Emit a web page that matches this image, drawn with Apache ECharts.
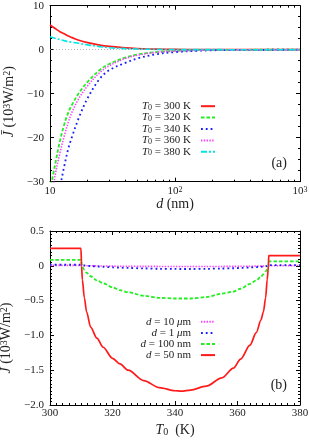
<!DOCTYPE html>
<html><head><meta charset="utf-8">
<script src="https://cdn.jsdelivr.net/npm/echarts@6/dist/echarts.min.js"></script>
<style>html,body{margin:0;padding:0;background:#fff}#c{width:309px;height:441px}</style>
</head><body><div id="c"></div>
<script>
// ---------- panel (a) data ----------
const dNm = [10,11,12,13,14,15,17,20,25,30,40,50,70,100,150,200,300,500,1000];
const J_T300 = [5.6,4.8,4.1,3.6,3.1,2.75,2.15,1.6,1.05,0.75,0.42,0.27,0.12,0.06,0.02,0.01,0.005,0.002,0];
const J_T320 = [-32,-26,-20.8,-17,-14.3,-12.5,-9.9,-7.3,-4.6,-3.2,-1.8,-1.1,-0.55,-0.28,-0.12,-0.07,-0.03,-0.01,0];
const J_T340 = [-48,-39,-31.5,-26.5,-22.5,-19.8,-15.5,-11,-6.6,-4.6,-3.0,-2.0,-1.05,-0.55,-0.25,-0.13,-0.06,-0.02,0];
const J_T360 = [-36,-28.5,-23.5,-19.6,-16.5,-14.2,-11.1,-8.2,-5.2,-3.6,-2.0,-1.25,-0.62,-0.32,-0.13,-0.07,-0.03,-0.01,0];
const J_T380 = [2.95,2.6,2.3,2.05,1.85,1.7,1.45,1.1,0.7,0.45,0.25,0.15,0.07,0.03,0.015,0.008,0.004,0.001,0];
const dMinorTicks = [20,30,40,50,60,70,80,90,200,300,400,500,600,700,800,900];
const topLegend = ['300','320','340','360','380'];

// ---------- panel (b) data ----------
const T0 = [300,309.9,310.1,310.35,311,311.7,313,315,317,320,322.4,325,330,335,340,342,345,350,355,358.7,361,364,366,367.5,368.3,369,369.5,369.9,370,380];
const J_d50nm = [0.25,0.25,0,-0.2,-0.46,-0.66,-0.88,-1.04,-1.17,-1.33,-1.41,-1.5,-1.65,-1.75,-1.795,-1.8,-1.785,-1.73,-1.61,-1.47,-1.34,-1.14,-0.96,-0.78,-0.66,-0.46,-0.2,0,0.145,0.145];
const J_d100nm = [0.085,0.085,0.02,-0.01,-0.06,-0.1,-0.15,-0.21,-0.25,-0.31,-0.35,-0.38,-0.43,-0.46,-0.47,-0.47,-0.47,-0.45,-0.4,-0.37,-0.33,-0.26,-0.21,-0.16,-0.12,-0.08,-0.05,-0.01,0.065,0.065];
const J_d1um = [0.015,0.015,0.01,0.008,0.005,0.002,-0.003,-0.01,-0.015,-0.022,-0.027,-0.031,-0.038,-0.043,-0.045,-0.046,-0.046,-0.044,-0.039,-0.035,-0.031,-0.024,-0.019,-0.014,-0.011,-0.007,-0.004,0,0.01,0.01];
const J_d10um = [0.006,0.006,0.004,0.003,0.002,0.001,0,-0.002,-0.003,-0.005,-0.006,-0.007,-0.008,-0.009,-0.01,-0.01,-0.01,-0.01,-0.009,-0.008,-0.007,-0.006,-0.005,-0.004,-0.003,-0.002,-0.001,0,0.004,0.004];
const bottomLegend = ['10 μm','1 μm','100 nm','50 nm'];

const FONT = 'Liberation Serif';
const TXT = '#222';
const pairs = (xs, ys) => xs.map((x, i) => [x, ys[i]]);

function richSet(fs) {
  return {
    i: {fontFamily: FONT, fontStyle: 'italic', fontSize: fs, color: TXT},
    n: {fontFamily: FONT, fontSize: fs, color: TXT},
    sub: {fontFamily: FONT, fontSize: Math.round(fs*0.72), color: TXT, verticalAlign: 'bottom', lineHeight: 6},
    sup: {fontFamily: FONT, fontSize: Math.round(fs*0.72), color: TXT, verticalAlign: 'top', lineHeight: 4}
  };
}

const tickCommon = {show: true, inside: true, length: 4, lineStyle: {color: '#000', width: 1}};
const minorCommon = {show: true, length: 2, lineStyle: {color: '#000', width: 1}};
const lineCommon = {show: true, onZero: false, lineStyle: {color: '#000', width: 1}};
const lblCommon = {fontFamily: FONT, fontSize: 11, color: TXT};

const yNameTop = '{i|J\u0304}{n| (10}{sup|3}{n|W/m}{sup|2}{n|)}';

const grids = [
  {left: 50, top: 5.7, width: 250, height: 176, outerBoundsMode: 'none', containLabel: false},
  {left: 50, top: 231, width: 250, height: 174, outerBoundsMode: 'none', containLabel: false},
  {left: 50, top: 5.7, width: 250, height: 176, outerBoundsMode: 'none', containLabel: false}
];

const xAxes = [
  {gridIndex: 0, type: 'log', logBase: 10, min: 10, max: 1000, position: 'bottom',
   axisLine: lineCommon, axisTick: tickCommon, splitLine: {show: false},
   axisLabel: Object.assign({}, lblCommon, {margin: 4, rich: richSet(11),
     formatter: v => { const p = Math.round(Math.log10(v)); return p === 1 ? '{n|10}' : '{n|10}{sup|' + p + '}'; }}),
   name: '{i|d}{n| (nm)}', nameLocation: 'middle', nameGap: 14,
   nameTextStyle: {rich: richSet(14), fontSize: 14}},
  {gridIndex: 0, type: 'log', logBase: 10, min: 10, max: 1000, position: 'top',
   axisLine: lineCommon, axisTick: tickCommon, axisLabel: {show: false}, splitLine: {show: false}},
  {gridIndex: 1, type: 'value', min: 300, max: 380, interval: 20, position: 'bottom',
   axisLine: lineCommon, axisTick: tickCommon, minorTick: Object.assign({splitNumber: 10}, minorCommon),
   splitLine: {show: false}, minorSplitLine: {show: false},
   axisLabel: Object.assign({}, lblCommon, {margin: 3}),
   name: '{i|T}{sub|0}{n|  (K)}', nameLocation: 'middle', nameGap: 18,
   nameTextStyle: {rich: richSet(14), fontSize: 14}},
  {gridIndex: 1, type: 'value', min: 300, max: 380, interval: 20, position: 'top',
   axisLine: lineCommon, axisTick: tickCommon, minorTick: Object.assign({splitNumber: 10}, minorCommon),
   splitLine: {show: false}, axisLabel: {show: false}},
  // helper axes (log10 of d) only for the minor ticks of panel (a)
  {gridIndex: 2, type: 'value', min: 1, max: 3, position: 'bottom',
   axisLine: {show: false, onZero: false}, splitLine: {show: false}, axisLabel: {show: false},
   axisTick: {show: true, inside: true, length: 2, lineStyle: {color: '#000', width: 1}, customValues: dMinorTicks.map(v => Math.log10(v))}},
  {gridIndex: 2, type: 'value', min: 1, max: 3, position: 'top',
   axisLine: {show: false, onZero: false}, splitLine: {show: false}, axisLabel: {show: false},
   axisTick: {show: true, inside: true, length: 2, lineStyle: {color: '#000', width: 1}, customValues: dMinorTicks.map(v => Math.log10(v))}}
];

const yAxes = [
  {gridIndex: 0, type: 'value', min: -30, max: 10, interval: 10, position: 'left',
   axisLine: lineCommon, axisTick: tickCommon, minorTick: Object.assign({splitNumber: 4}, minorCommon),
   splitLine: {show: false},
   axisLabel: Object.assign({}, lblCommon, {margin: 6, formatter: v => v === 0 ? '0' : (v < 0 ? '\u2212' : '') + Math.abs(v)}),
   name: yNameTop, nameLocation: 'middle', nameGap: 31, nameRotate: 90,
   nameTextStyle: {rich: richSet(14), fontSize: 14, padding: [0, 16, 0, 0]}},
  {gridIndex: 0, type: 'value', min: -30, max: 10, interval: 10, position: 'right',
   axisLine: lineCommon, axisTick: tickCommon, minorTick: Object.assign({splitNumber: 4}, minorCommon),
   splitLine: {show: false}, axisLabel: {show: false}},
  {gridIndex: 1, type: 'value', min: -2, max: 0.5, interval: 0.5, position: 'left',
   axisLine: lineCommon, axisTick: tickCommon, minorTick: Object.assign({splitNumber: 10}, minorCommon),
   splitLine: {show: false},
   axisLabel: Object.assign({}, lblCommon, {margin: 6, formatter: v => Math.abs(v) < 1e-9 ? '0' : (v < 0 ? '\u2212' : '') + Math.abs(v).toFixed(1)}),
   name: yNameTop, nameLocation: 'middle', nameGap: 31, nameRotate: 90,
   nameTextStyle: {rich: richSet(14), fontSize: 14, padding: [0, 40, 0, 0]}},
  {gridIndex: 1, type: 'value', min: -2, max: 0.5, interval: 0.5, position: 'right',
   axisLine: lineCommon, axisTick: tickCommon, minorTick: Object.assign({splitNumber: 10}, minorCommon),
   splitLine: {show: false}, axisLabel: {show: false}},
  {gridIndex: 2, type: 'value', min: -30, max: 10, show: false}
];

const topStyles = [
  {c: '#ff1a1a', t: 'solid', w: 1.7},
  {c: '#22ee22', t: [3.5, 2], w: 1.8},
  {c: '#1a1aff', t: [1.8, 3], w: 1.8},
  {c: '#ff40ff', t: [1.4, 1.4], w: 1.6},
  {c: '#00e6e6', t: [6, 2, 2, 2], w: 1.6}
];
const topData = [J_T300, J_T320, J_T340, J_T360, J_T380];
const bottomStyles = [
  {c: '#ff40ff', t: [1.4, 1.4], w: 1.6},
  {c: '#1a1aff', t: [1.8, 3], w: 1.8},
  {c: '#22ee22', t: [3.5, 2], w: 1.8},
  {c: '#ff1a1a', t: 'solid', w: 1.7}
];
const bottomData = [J_d10um, J_d1um, J_d100nm, J_d50nm];

const series = [];
topLegend.forEach((nm, k) => {
  const s = {
    name: nm, type: 'line', xAxisIndex: 0, yAxisIndex: 0, data: pairs(dNm, topData[k]),
    symbol: 'none', smooth: 0.35, clip: true, silent: true, animation: false,
    lineStyle: {color: topStyles[k].c, type: topStyles[k].t, width: topStyles[k].w},
    itemStyle: {color: topStyles[k].c}, z: 3 + k
  };
  if (k === 0) s.markLine = {silent: true, symbol: 'none', animation: false, label: {show: false}, z: 1,
    lineStyle: {color: '#a0a0a0', type: [1, 2], width: 0.8}, data: [{yAxis: 0}]};
  series.push(s);
});
bottomLegend.forEach((nm, k) => {
  series.push({
    name: nm, type: 'line', xAxisIndex: 2, yAxisIndex: 2, data: pairs(T0, bottomData[k]),
    symbol: 'none', smooth: 0.3, smoothMonotone: 'x', clip: true, silent: true, animation: false,
    lineStyle: {color: bottomStyles[k].c, type: bottomStyles[k].t, width: bottomStyles[k].w},
    itemStyle: {color: bottomStyles[k].c}, z: 3 + k
  });
});

const legends = [];
topLegend.forEach((nm, k) => legends.push({
  data: [nm], orient: 'vertical', right: 93, top: 100.7 + k * 11.4, padding: 0, align: 'right',
  itemWidth: 14, itemHeight: 12, selectedMode: false, itemStyle: {opacity: 0},
  textStyle: {fontFamily: FONT, fontSize: 11, color: TXT, padding: [0, 5, 0, 0], rich: richSet(11)},
  formatter: n => '{i|T}{sub|0}{n| = ' + n + ' K}'
}));
const bottomFmt = {
  '10 μm': '{i|d}{n| = 10 }{i|μ}{n|m}',
  '1 μm': '{i|d}{n| = 1 }{i|μ}{n|m}',
  '100 nm': '{i|d}{n| = 100 nm}',
  '50 nm': '{i|d}{n| = 50 nm}'
};
bottomLegend.forEach((nm, k) => legends.push({
  data: [nm], orient: 'vertical', right: 93, top: 316.3 + k * 11.1, padding: 0, align: 'right',
  itemWidth: 14, itemHeight: 12, selectedMode: false, itemStyle: {opacity: 0},
  textStyle: {fontFamily: FONT, fontSize: 11, color: TXT, padding: [0, 5, 0, 0], rich: richSet(11)},
  formatter: n => bottomFmt[n]
}));

const chart = echarts.init(document.getElementById('c'), null, {renderer: 'canvas'});
chart.setOption({
  animation: false,
  backgroundColor: '#fff',
  grid: grids,
  xAxis: xAxes,
  yAxis: yAxes,
  legend: legends,
  series: series,
  graphic: [
    {type: 'text', right: 22, top: 156, style: {text: '(a)', fontFamily: FONT, fontSize: 14, fill: TXT}},
    {type: 'text', right: 22, top: 378, style: {text: '(b)', fontFamily: FONT, fontSize: 14, fill: TXT}}
  ]
});
</script></body></html>
